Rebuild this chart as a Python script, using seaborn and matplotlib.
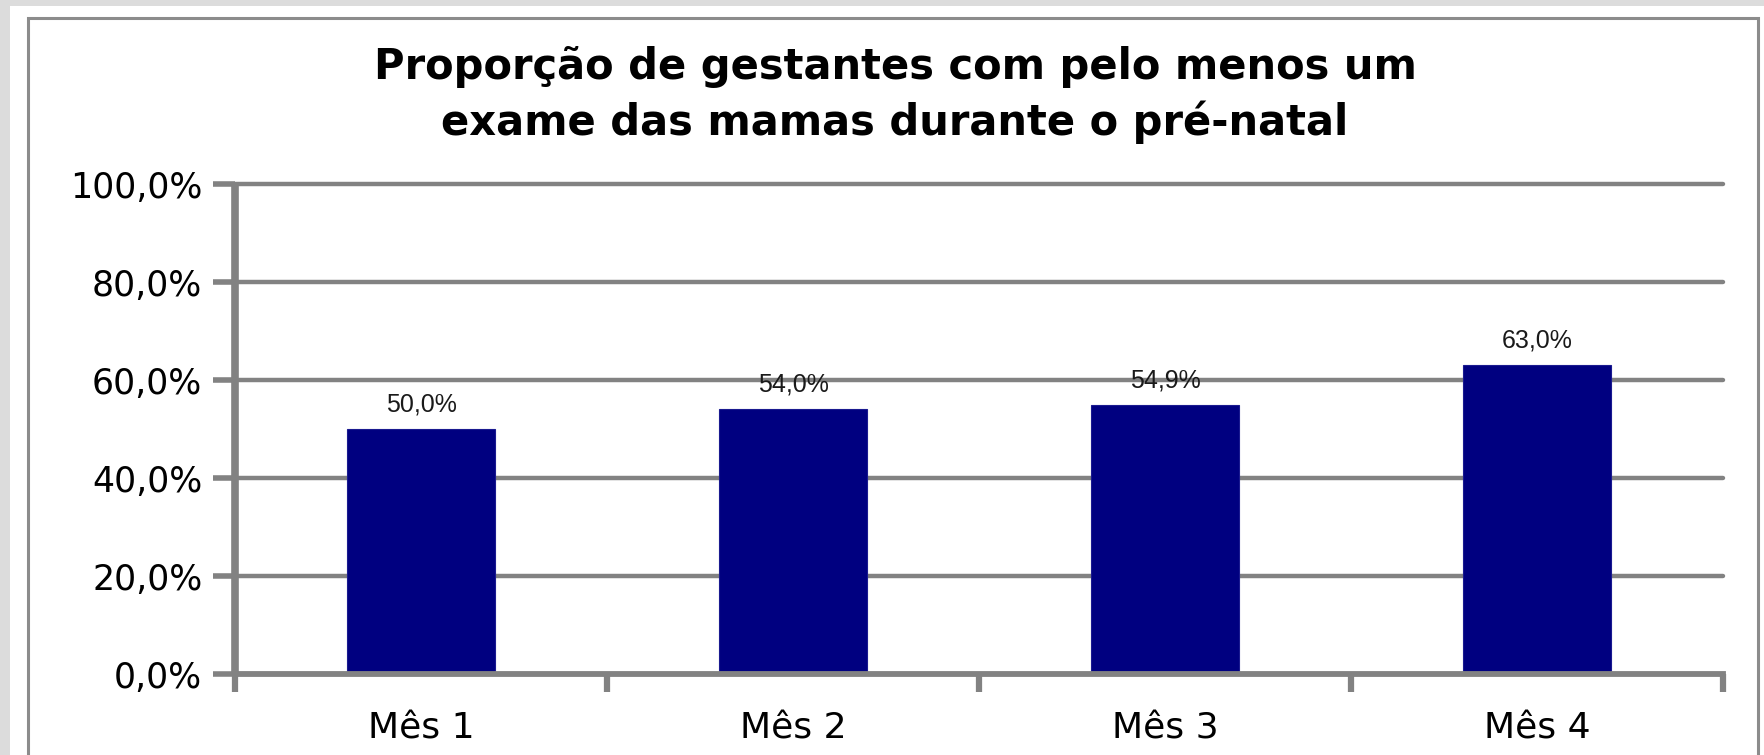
"""Bar chart: proporcao de gestantes com exame das mamas"""
import pandas as pd
import matplotlib
matplotlib.use('Agg')
import matplotlib.pyplot as plt
from matplotlib.patches import Rectangle
from matplotlib.ticker import FuncFormatter, FixedLocator
import seaborn as sns

#Data
meses = ['Mês 1', 'Mês 2', 'Mês 3', 'Mês 4']
proporcao = [50.0, 54.0, 54.9, 63.0]
titulo = 'Proporção de gestantes com pelo menos um\nexame das mamas durante o pré-natal'

df = pd.DataFrame({'mes': meses, 'valor': proporcao})

sns.set_style('white')
plt.rcParams['font.family'] = ['DejaVu Sans']

W, H = 1765, 755
fig = plt.figure(figsize=(W / 100, H / 100), dpi=100, facecolor='#dcdcdc')

#White card and the gray chart border (behind the axes)
fig.patches.append(Rectangle((10 / W, -0.1), 1, 1.1 - 6 / H, transform=fig.transFigure,
                             facecolor='white', edgecolor='none', zorder=-2))
fig.patches.append(Rectangle((28 / W, -0.1), (1758 - 28) / W, 1.1 - 18 / H,
                             transform=fig.transFigure, facecolor='none',
                             edgecolor='#8c8c8c', linewidth=2.2, zorder=-1))

ax = fig.add_axes([235 / W, 81 / H, (1723 - 235) / W, (674 - 184) / H])
ax.set_facecolor('none')

sns.barplot(data=df, x='mes', y='valor', color='#000080', width=0.4,
            saturation=1, edgecolor='#1a1a90', linewidth=0.8, ax=ax, zorder=3)

grid_c = '#828282'
ax.set_ylim(0, 100)
ax.set_xlim(-0.5, 3.5)
ax.set_yticks([0, 20, 40, 60, 80, 100])
ax.yaxis.set_major_formatter(FuncFormatter(lambda v, p: f'{v:.1f}%'.replace('.', ',')))
for y in [20, 40, 60, 80, 100]:
    ax.axhline(y, color=grid_c, linewidth=3.2, zorder=1, clip_on=False)

for side in ['top', 'right']:
    ax.spines[side].set_visible(False)
ax.spines['left'].set_linewidth(5.5)
ax.spines['left'].set_capstyle('butt')
ax.spines['bottom'].set_linewidth(4.2)
for side in ['left', 'bottom']:
    ax.spines[side].set_color(grid_c)
    ax.spines[side].set_zorder(4)

ax.tick_params(which='both', left=True, bottom=True)
ax.tick_params(axis='y', direction='out', length=15.5, width=4.0, color=grid_c,
               pad=8, labelsize=25, labelcolor='black')
ax.tick_params(axis='x', which='major', length=0, pad=27, labelsize=26, labelcolor='black')
ax.xaxis.set_minor_locator(FixedLocator([-0.5, 0.5, 1.5, 2.5, 3.5]))
ax.tick_params(axis='x', which='minor', direction='out', length=13, width=4.5, color=grid_c)
ax.set_xlabel('')
ax.set_ylabel('')

rotulos = [f'{v:.1f}%'.replace('.', ',') for v in proporcao]
ax.bar_label(ax.containers[0], labels=rotulos, padding=9, fontsize=18,
             family='Liberation Sans', color='#1a1a1a')

fig.text(895 / W, 1 - 95 / H, titulo, ha='center', va='center', fontsize=30,
         fontweight='bold', linespacing=1.37, color='black')

plt.savefig('out.png', dpi=100, facecolor=fig.get_facecolor())
